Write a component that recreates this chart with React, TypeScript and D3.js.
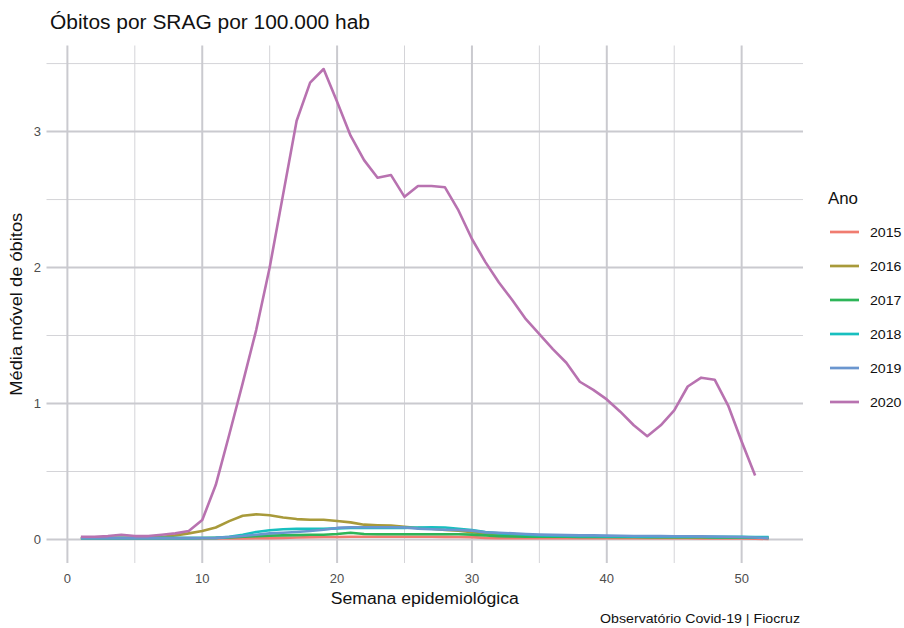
import React from "react";
import * as d3 from "d3";

const weeks = d3.range(1, 53);
const years = ["2015", "2016", "2017", "2018", "2019", "2020"];
const colors = ["#F07C70", "#A89A3A", "#2DB558", "#18BFBF", "#6A96CF", "#B872B0"];

const y2015 = [0.005,0.005,0.005,0.006,0.005,0.005,0.006,0.006,0.007,0.007,0.008,0.008,0.008,0.009,0.01,0.012,0.015,0.017,0.018,0.018,0.02,0.02,0.02,0.02,0.02,0.02,0.02,0.019,0.018,0.017,0.012,0.01,0.01,0.01,0.01,0.01,0.01,0.01,0.009,0.009,0.009,0.009,0.009,0.009,0.009,0.009,0.008,0.008,0.008,0.008,0.006,0.004];
const y2016 = [0.012,0.012,0.012,0.013,0.013,0.014,0.018,0.03,0.045,0.062,0.088,0.135,0.175,0.185,0.178,0.162,0.15,0.145,0.145,0.136,0.126,0.109,0.105,0.103,0.094,0.085,0.08,0.07,0.064,0.054,0.045,0.04,0.035,0.032,0.028,0.026,0.024,0.022,0.02,0.02,0.019,0.018,0.018,0.017,0.017,0.016,0.016,0.016,0.015,0.015,0.014,0.013];
const y2017 = [0.01,0.01,0.01,0.01,0.01,0.01,0.01,0.01,0.01,0.011,0.012,0.015,0.02,0.025,0.028,0.03,0.032,0.035,0.035,0.04,0.05,0.04,0.038,0.038,0.038,0.038,0.038,0.038,0.038,0.036,0.03,0.025,0.022,0.021,0.02,0.02,0.02,0.019,0.019,0.018,0.018,0.018,0.017,0.017,0.016,0.016,0.016,0.015,0.015,0.014,0.013,0.012];
const y2018 = [0.01,0.01,0.01,0.01,0.01,0.01,0.01,0.01,0.01,0.011,0.012,0.02,0.035,0.055,0.068,0.075,0.078,0.078,0.078,0.082,0.085,0.085,0.085,0.085,0.085,0.088,0.09,0.088,0.078,0.07,0.055,0.045,0.04,0.035,0.03,0.028,0.026,0.025,0.025,0.022,0.022,0.021,0.021,0.02,0.02,0.02,0.02,0.019,0.019,0.019,0.018,0.018];
const y2019 = [0.01,0.01,0.01,0.01,0.01,0.01,0.01,0.01,0.01,0.011,0.012,0.018,0.025,0.035,0.045,0.05,0.055,0.062,0.072,0.085,0.09,0.09,0.09,0.09,0.088,0.08,0.075,0.072,0.07,0.065,0.052,0.05,0.045,0.04,0.036,0.034,0.032,0.03,0.03,0.028,0.027,0.026,0.026,0.025,0.024,0.024,0.023,0.022,0.02,0.018,0.014,0.01];
const y2020 = [0.02,0.02,0.025,0.035,0.025,0.025,0.035,0.045,0.062,0.143,0.4,0.77,1.15,1.54,2.0,2.54,3.08,3.36,3.46,3.22,2.97,2.79,2.66,2.68,2.52,2.6,2.6,2.59,2.42,2.21,2.04,1.89,1.76,1.62,1.51,1.4,1.3,1.16,1.1,1.03,0.94,0.84,0.76,0.84,0.95,1.125,1.19,1.175,0.985,0.72,0.47];

const series = [y2015, y2016, y2017, y2018, y2019, y2020];

const xTicks = [0, 10, 20, 30, 40, 50];
const xMinor = [5, 15, 25, 35, 45];
const yTicks = [0, 1, 2, 3];
const yMinor = [0.5, 1.5, 2.5, 3.5];

const FONT = "'Liberation Sans', Arial, sans-serif";

export default function App() {
  const W = 904, H = 628;
  const left = 46.5, right = 803, top = 45.5, bottom = 563;
  const x = d3.scaleLinear().domain([-1.55, 54.55]).range([left, right]);
  const y = d3.scaleLinear().domain([-0.173, 3.633]).range([bottom, top]);
  const line = d3.line<number>().x((_, i) => x(weeks[i])).y((d) => y(d));

  return (
    <svg width={W} height={H} style={{ position: "absolute", left: 0, top: 0, background: "#fff" }} fontFamily={FONT}>
      <rect width={W} height={H} fill="#fff" />
      {xMinor.map((t) => (
        <line key={"xm" + t} x1={x(t)} x2={x(t)} y1={top} y2={bottom} stroke="#d4d4d8" strokeWidth={1} />
      ))}
      {yMinor.map((t) => (
        <line key={"ym" + t} x1={left} x2={right} y1={y(t)} y2={y(t)} stroke="#d4d4d8" strokeWidth={1} />
      ))}
      {xTicks.map((t) => (
        <line key={"xM" + t} x1={x(t)} x2={x(t)} y1={top} y2={bottom} stroke="#cacacf" strokeWidth={2} />
      ))}
      {yTicks.map((t) => (
        <line key={"yM" + t} x1={left} x2={right} y1={y(t)} y2={y(t)} stroke="#cacacf" strokeWidth={2} />
      ))}
      {series.map((s, i) => (
        <path key={years[i]} d={line(s) || ""} fill="none" stroke={colors[i]} strokeWidth={2.6} strokeLinejoin="round" />
      ))}
      {xTicks.map((t) => (
        <text key={"xl" + t} x={x(t)} y={583} textAnchor="middle" fontSize={13} fill="#4d4d4d">{t}</text>
      ))}
      {yTicks.map((t) => (
        <text key={"yl" + t} x={41} y={y(t) + 4.5} textAnchor="end" fontSize={13} fill="#4d4d4d">{t}</text>
      ))}
      <text x={50} y={29} fontSize={19.5} fill="#111" textLength={320} lengthAdjust="spacingAndGlyphs">Óbitos por SRAG por 100.000 hab</text>
      <text x={(left + right) / 2} y={604} textAnchor="middle" fontSize={16} fill="#111" textLength={188} lengthAdjust="spacingAndGlyphs">Semana epidemiológica</text>
      <text transform={`translate(22,${(top + bottom) / 2}) rotate(-90)`} textAnchor="middle" fontSize={16} fill="#111" textLength={183} lengthAdjust="spacingAndGlyphs">Média móvel de óbitos</text>
      <text x={800} y={623} textAnchor="end" fontSize={13} fill="#111" textLength={200} lengthAdjust="spacingAndGlyphs">Observatório Covid-19 | Fiocruz</text>
      <text x={828} y={204} fontSize={16} fill="#111" textLength={30} lengthAdjust="spacingAndGlyphs">Ano</text>
      {years.map((yr, i) => (
        <g key={"lg" + yr}>
          <line x1={830} x2={859} y1={232 + i * 34} y2={232 + i * 34} stroke={colors[i]} strokeWidth={2.7} />
          <text x={870} y={232 + i * 34 + 5} fontSize={13.5} fill="#111" textLength={31.5} lengthAdjust="spacingAndGlyphs">{yr}</text>
        </g>
      ))}
    </svg>
  );
}
